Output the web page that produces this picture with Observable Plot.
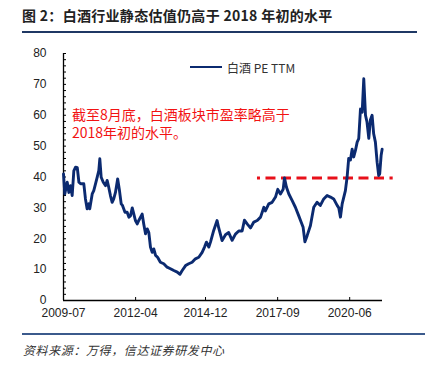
<!DOCTYPE html>
<html>
<head>
<meta charset="utf-8">
<script src="https://cdn.jsdelivr.net/npm/d3@7"></script>
<script src="https://cdn.jsdelivr.net/npm/@observablehq/plot@0.6"></script>
<style>
  html, body { margin: 0; padding: 0; background: #fff; }
  body { width: 425px; height: 368px; position: relative; overflow: hidden; font-family: "Noto Sans CJK SC", sans-serif; }
  #title { position: absolute; left: 22px; top: 5px; font-size: 14px; line-height: 20px; font-weight: bold; color: #222; white-space: nowrap; letter-spacing: 0.3px; }
  #ruleTop { position: absolute; left: 22px; top: 31px; width: 395px; height: 2px; background: #1f3864; }
  #chart { position: absolute; left: 0; top: 40px; }
  #legend { position: absolute; left: 190px; top: 58px; height: 18px; display: flex; align-items: center; font-size: 12px; color: #333; white-space: nowrap; }
  #legend .swatch { width: 32px; height: 2.5px; background: #0b2a70; margin-right: 5px; }
  #note { position: absolute; left: 72px; top: 105px; font-size: 14px; line-height: 18px; color: #f21212; white-space: nowrap; }
  #ruleBottom { position: absolute; left: 22px; top: 333px; width: 403px; height: 1.5px; background: #3b5a8c; }
  #caption { position: absolute; left: 23px; top: 341px; font-size: 12px; line-height: 18px; font-style: italic; color: #333; white-space: nowrap; letter-spacing: 0.6px; }
</style>
</head>
<body>
<div id="title"></div>
<div id="ruleTop"></div>
<div id="chart"></div>
<div id="legend"><div class="swatch"></div><span id="legendText"></span></div>
<div id="note"></div>
<div id="ruleBottom"></div>
<div id="caption"></div>
<script>
const titleText = "图 2：白酒行业静态估值仍高于 2018 年初的水平";
const captionText = "资料来源：万得，信达证券研发中心";
const seriesName = "白酒 PE TTM";
const noteLines = ["截至8月底，白酒板块市盈率略高于", "2018年初的水平。"];

const dates = [
  "2009-07-01","2009-07-19","2009-08-22","2009-09-14","2009-10-07","2009-10-30","2009-11-22","2009-12-16",
  "2010-01-09","2010-02-01","2010-02-24","2010-04-10","2010-05-03","2010-05-26","2010-06-18","2010-07-02","2010-08-05","2010-08-27","2010-09-20","2010-10-13","2010-11-05","2010-11-19","2010-12-08",
  "2011-01-06","2011-02-07","2011-03-01","2011-03-23","2011-04-16","2011-05-10","2011-06-01","2011-06-25","2011-07-26","2011-08-20","2011-09-13","2011-10-01","2011-11-05","2011-12-05","2011-12-30",
  "2012-01-21","2012-02-14","2012-03-02","2012-03-29","2012-04-23","2012-05-17","2012-07-01","2012-07-23","2012-08-17","2012-09-10","2012-10-02","2012-10-25","2012-11-18","2012-12-10",
  "2013-01-04","2013-02-01","2013-03-12","2013-04-28","2013-06-14","2013-07-30","2013-09-15","2013-11-02","2013-12-10",
  "2014-01-10","2014-02-26","2014-04-11","2014-05-28","2014-07-13","2014-08-29","2014-10-15","2014-11-17","2014-12-14",
  "2015-01-16","2015-02-09","2015-03-25","2015-05-11","2015-06-03","2015-07-20","2015-09-05","2015-10-20","2015-12-07",
  "2016-01-22","2016-03-08","2016-04-24","2016-05-26","2016-07-03","2016-08-18","2016-10-04","2016-11-20",
  "2017-01-06","2017-02-21","2017-03-14","2017-04-30","2017-06-16","2017-08-02","2017-09-03","2017-10-10","2017-11-17","2017-12-05",
  "2018-01-02","2018-02-04","2018-03-21","2018-05-06","2018-06-21","2018-07-25","2018-08-22","2018-09-16","2018-10-17","2018-12-02",
  "2019-01-17","2019-03-04","2019-04-19","2019-06-05","2019-07-22","2019-09-07","2019-10-22","2019-12-09",
  "2020-01-01","2020-01-24","2020-02-17","2020-04-02","2020-04-26","2020-05-18","2020-06-11","2020-07-05","2020-07-27","2020-08-20","2020-09-13","2020-10-05","2020-10-29","2020-11-22","2020-12-14",
  "2021-01-07","2021-01-28","2021-02-22","2021-03-16","2021-04-09","2021-05-01","2021-05-25","2021-06-18","2021-07-10","2021-07-24","2021-08-13","2021-08-27"
];
const peTTM = [
  41, 34.5, 38.3, 35, 37.2, 34, 42, 43.2,
  43, 38.3, 37.8, 37.8, 32.9, 29.7, 31.3, 29.7, 34.5, 35.6, 37.8, 39.9, 42.1, 45.9, 39.9,
  38.3, 37.2, 38.9, 36.7, 34, 31.8, 32.9, 35, 39.4, 35.6, 31.3, 30.8, 28.6, 28.6, 27,
  27.5, 30, 28.5, 25.9, 24.8, 26, 28, 24.8, 21.6, 23.2, 22, 17.3, 15.6, 16.7,
  14.6, 14, 12.4, 11.9, 10.8, 10.3, 9.7, 9.2, 8.5,
  9.7, 11.3, 11.9, 12.4, 13.5, 14, 15.6, 17.3, 18.9,
  17.3, 19, 22.7, 25.9, 23.5, 19.4, 21.3, 22, 19.5,
  21.5, 22.5, 22.5, 26, 24.8, 23.5, 25.4, 25.9,
  27, 30.2, 29, 31.3, 31.8, 33.5, 36, 34.5, 36, 39.7,
  36.7, 34.5, 32.4, 30.2, 27.5, 25.4, 23.7, 19, 21, 24.3,
  30.2, 31.8, 30.8, 32.9, 34, 33.5, 32.9, 30.8,
  30, 27, 31.3, 35.6, 40, 46, 45.5, 49, 46.5, 48.6, 51.3, 52.4, 62, 61, 71.8,
  60, 57.8, 52.5, 58.5, 60, 54, 51.3, 44.8, 40.5, 41, 47, 49
];
const xTickLabels = ["2009-07", "2012-04", "2014-12", "2017-09", "2020-06"];
const yTicks = [0, 10, 20, 30, 40, 50, 60, 70, 80];
const yMinorStep = 2;
const xDomain = ["2009-07-01", "2021-09-01"];
const refLevel = 39.7;
const refRange = ["2016-11-24", "2022-01-28"];

document.getElementById("title").textContent = titleText;
document.getElementById("caption").textContent = captionText;
document.getElementById("legendText").textContent = seriesName;
document.getElementById("note").innerHTML = noteLines.map(s => `<div>${s}</div>`).join("");

const data = dates.map((d, i) => ({date: new Date(d), pe: peTTM[i]}));
const xTickDates = xTickLabels.map(s => new Date(s + "-01"));
const yMinor = d3.range(0, 80 + 1e-9, yMinorStep);

const W = 425, H = 290, mL = 63, mR = 43, mT = 13, mB = 30;
const innerW = W - mL - mR, innerH = H - mT - mB;

const chart = Plot.plot({
  width: W, height: H,
  marginLeft: mL, marginRight: mR, marginTop: mT, marginBottom: mB,
  style: {fontFamily: "'Liberation Sans', Arial, sans-serif", fontSize: "12px", color: "#222", background: "transparent", overflow: "visible"},
  x: {type: "utc", domain: xDomain.map(s => new Date(s))},
  y: {domain: [0, 80]},
  marks: [
    Plot.axisX({ticks: xTickDates, tickFormat: d3.utcFormat("%Y-%m"), tickSize: 0, tickPadding: 8, label: null}),
    Plot.axisY({ticks: yTicks, tickSize: 0, tickPadding: 17, label: null}),
    Plot.tickY(yMinor, {y: d => d, insetRight: innerW - 3, stroke: "#000", strokeWidth: 1}),
    Plot.tickX(xTickDates, {x: d => d, insetTop: innerH - 3, stroke: "#000", strokeWidth: 1}),
    Plot.ruleY([0], {stroke: "#000", strokeWidth: 1.3}),
    Plot.ruleX([new Date(xDomain[0])], {stroke: "#000", strokeWidth: 1.3}),
    Plot.ruleY([refLevel], {x1: new Date(refRange[0]), x2: new Date(refRange[1]), stroke: "#e8101a", strokeWidth: 3, strokeDasharray: "10,5.5", strokeDashoffset: 7}),
    Plot.line(data, {x: "date", y: "pe", stroke: "#0b2a70", strokeWidth: 2.9, strokeLinejoin: "round"})
  ]
});
document.getElementById("chart").appendChild(chart);
</script>
</body>
</html>
